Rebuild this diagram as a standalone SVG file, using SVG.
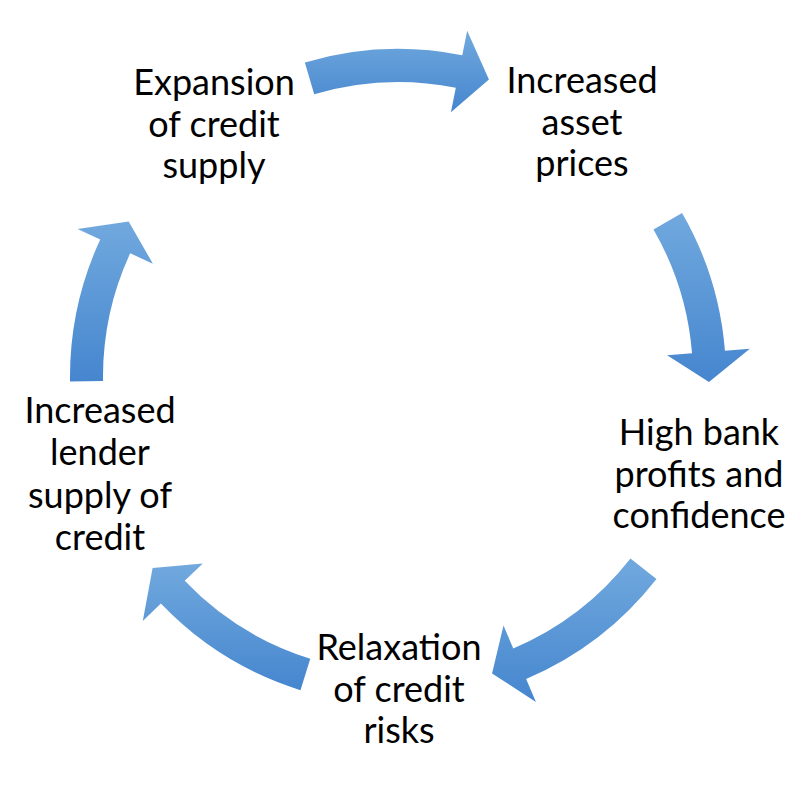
<svg xmlns="http://www.w3.org/2000/svg" width="800" height="786" viewBox="0 0 800 786">
  <defs>
    <linearGradient id="g" x1="0" y1="0" x2="0" y2="1">
      <stop offset="0" stop-color="#71a9de"/>
      <stop offset="1" stop-color="#4686cf"/>
    </linearGradient>
    <style>
      .arrow { fill: url(#g); stroke: none; }
      .lbl { font-family: Lato, "Open Sans", sans-serif; font-size: 36px; fill: #000; text-anchor: middle; }
    </style>
  </defs>
  <rect width="800" height="786" fill="#fff"/>
  <g id="connectors">
    <path class="arrow" d="M304.84,62.51 A328,328 0 0 1 462.27,55.36 L467.17,30.84 L488.93,79.59 L450.91,112.24 L455.81,87.72 A295,295 0 0 0 314.21,94.15 Z"/>
    <path class="arrow" d="M682.06,213 A328,328 0 0 1 724.94,350.69 L749.86,348.69 L708.96,381.89 L667.13,355.35 L692.05,353.34 A295,295 0 0 0 653.48,229.5 Z"/>
    <path class="arrow" d="M656.47,578.94 A328,328 0 0 1 526.16,678.92 L535.93,701.94 L492.04,673.44 L503.5,625.54 L513.27,648.55 A295,295 0 0 0 630.46,558.62 Z"/>
    <path class="arrow" d="M300.46,690.16 A328,328 0 0 1 160.87,603.61 L142.79,620.88 L152.6,568.04 L202.8,563.54 L184.72,580.81 A295,295 0 0 0 310.28,658.65 Z"/>
    <path class="arrow" d="M70.03,381.58 A328,328 0 0 1 100.25,239.42 L77.55,228.93 L128.67,221.5 L152.9,263.75 L130.2,253.26 A295,295 0 0 0 103.03,381.12 Z"/>
  </g>
  <g id="expansion">
    <text class="lbl" x="214" y="95">Expansion</text>
    <text class="lbl" x="214" y="136.5">of credit</text>
    <text class="lbl" x="214" y="178">supply</text>
  </g>
  <g id="asset-prices">
    <text class="lbl" x="582" y="93">Increased</text>
    <text class="lbl" x="582" y="135">asset</text>
    <text class="lbl" x="582" y="176">prices</text>
  </g>
  <g id="bank-profits">
    <text class="lbl" x="699" y="445">High bank</text>
    <text class="lbl" x="699" y="487">profits and</text>
    <text class="lbl" x="699" y="528">confidence</text>
  </g>
  <g id="relaxation">
    <text class="lbl" x="399" y="660">Relaxation</text>
    <text class="lbl" x="399" y="702">of credit</text>
    <text class="lbl" x="399" y="743">risks</text>
  </g>
  <g id="lender-supply">
    <text class="lbl" x="100" y="423">Increased</text>
    <text class="lbl" x="100" y="465">lender</text>
    <text class="lbl" x="100" y="508">supply of</text>
    <text class="lbl" x="100" y="550">credit</text>
  </g>
</svg>
